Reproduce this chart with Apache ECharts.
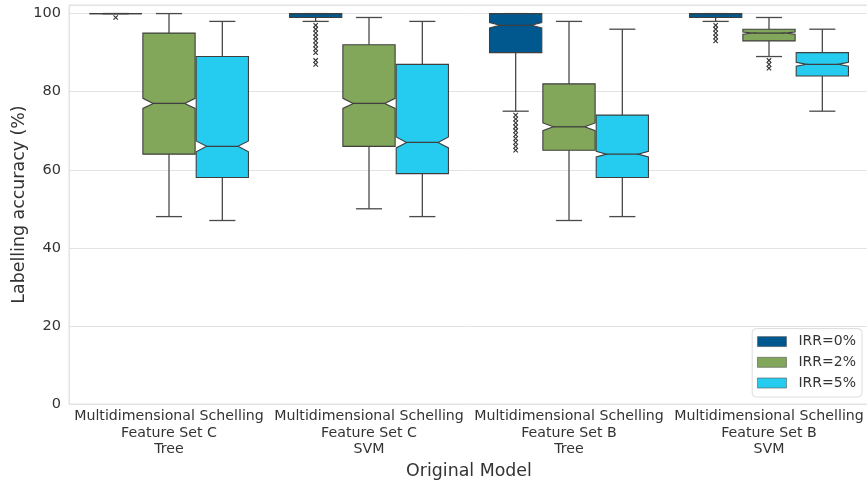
<!DOCTYPE html>
<html>
<head>
<meta charset="utf-8">
<script src="https://cdn.jsdelivr.net/npm/echarts@6/dist/echarts.min.js"></script>
<style>
html,body{margin:0;padding:0;background:#fff;}
#chart{width:867px;height:482px;}
</style>
</head>
<body>
<div id="chart"></div>
<script>
// ---- Data ----
const categories = [
  'Multidimensional Schelling\nFeature Set C\nTree',
  'Multidimensional Schelling\nFeature Set C\nSVM',
  'Multidimensional Schelling\nFeature Set B\nTree',
  'Multidimensional Schelling\nFeature Set B\nSVM'
];
const seriesNames = ['IRR=0%', 'IRR=2%', 'IRR=5%'];
// each row: [whiskerLow, q1, notchLow, median, notchHigh, q3, whiskerHigh]
const irr0Stats = [
  [100, 100, 100, 100, 100, 100, 100],
  [98, 99, 100, 100, 100, 100, 100],
  [75, 90, 96.3, 97, 97.7, 100, 100],
  [98, 99, 100, 100, 100, 100, 100]
];
const irr2Stats = [
  [48, 64, 75.7, 77, 78.3, 95, 100],
  [50, 66, 75.7, 77, 78.3, 92, 99],
  [47, 65, 70, 71, 72, 82, 98],
  [89, 93, 94.7, 95, 95.3, 96, 99]
];
const irr5Stats = [
  [47, 58, 64.6, 66, 67.4, 89, 98],
  [48, 59, 65.6, 67, 68.4, 87, 98],
  [48, 58, 63.3, 64, 64.7, 74, 96],
  [75, 84, 86.5, 87, 87.5, 90, 96]
];
const irr0Outliers = [
  [99],
  [97, 96, 95, 94, 93, 92, 91, 90, 88, 87],
  [74, 73, 72, 71, 70, 69, 68, 67, 66, 65],
  [97, 96, 95, 94, 93]
];
const irr2Outliers = [
  [],
  [],
  [],
  [88, 87, 86]
];
const irr5Outliers = [[], [], [], []];
const yTicks = [0, 20, 40, 60, 80, 100];

// ---- Styles ----
const colors = ['#00588f', '#82a75a', '#25ccf0'];
const edge = '#3f3f3f';
const whiskerColor = '#4a4a4a';

const allStats = [irr0Stats, irr2Stats, irr5Stats];
const allOutliers = [irr0Outliers, irr2Outliers, irr5Outliers];

function geom(api, idx, g) {
  const c = api.coord([idx, 0])[0];
  const band = api.size([1, 0])[0];
  const bw = band * 0.8 / 3;
  const cx = c + (g - 1) * bw;
  const w = bw * 0.98;
  return {cx, w};
}

function makeBoxRender(g) {
  return function (params, api) {
    const idx = api.value(0);
    const {cx, w} = geom(api, idx, g);
    const y = v => api.coord([idx, v])[1];
    const wl = api.value(1), q1 = api.value(2), nl = api.value(3), med = api.value(4),
          nh = api.value(5), q3 = api.value(6), wh = api.value(7);
    const L = cx - w / 2, R = cx + w / 2;
    const ind = (nh > nl) ? w * 0.2 : 0;
    let pts;
    if (ind > 0) {
      pts = [[L, y(q3)], [R, y(q3)], [R, y(nh)], [R - ind, y(med)], [R, y(nl)], [R, y(q1)],
             [L, y(q1)], [L, y(nl)], [L + ind, y(med)], [L, y(nh)]];
    } else {
      pts = [[L, y(q3)], [R, y(q3)], [R, y(q1)], [L, y(q1)]];
    }
    const lineStyle = {stroke: whiskerColor, lineWidth: 1.3};
    const capW = w / 4;
    return {
      type: 'group',
      children: [
        {type: 'line', shape: {x1: cx, y1: y(q3), x2: cx, y2: y(wh)}, style: lineStyle},
        {type: 'line', shape: {x1: cx, y1: y(q1), x2: cx, y2: y(wl)}, style: lineStyle},
        {type: 'line', shape: {x1: cx - capW, y1: y(wh), x2: cx + capW, y2: y(wh)}, style: lineStyle},
        {type: 'line', shape: {x1: cx - capW, y1: y(wl), x2: cx + capW, y2: y(wl)}, style: lineStyle},
        {type: 'polygon', shape: {points: pts}, style: {fill: colors[g], stroke: edge, lineWidth: 1.1}},
        {type: 'line', shape: {x1: L + ind, y1: y(med), x2: R - ind, y2: y(med)}, style: {stroke: edge, lineWidth: 1.3}}
      ]
    };
  };
}

function makeOutlierRender(g) {
  return function (params, api) {
    const idx = api.value(0);
    const {cx} = geom(api, idx, g);
    const yy = api.coord([idx, api.value(1)])[1];
    const s = 2.2;
    const st = {stroke: '#333', lineWidth: 1.1};
    return {
      type: 'group',
      children: [
        {type: 'line', shape: {x1: cx - s, y1: yy - s, x2: cx + s, y2: yy + s}, style: st},
        {type: 'line', shape: {x1: cx - s, y1: yy + s, x2: cx + s, y2: yy - s}, style: st}
      ]
    };
  };
}

const series = [];
for (let g = 0; g < 3; g++) {
  series.push({
    name: seriesNames[g],
    type: 'custom',
    renderItem: makeBoxRender(g),
    itemStyle: {color: colors[g]},
    encode: {x: 0, y: [1, 2, 3, 4, 5, 6, 7]},
    data: allStats[g].map((r, i) => [i].concat(r)),
    z: 3
  });
}
for (let g = 0; g < 3; g++) {
  const pts = [];
  allOutliers[g].forEach((arr, i) => arr.forEach(v => pts.push([i, v])));
  series.push({
    name: seriesNames[g] + ' outliers',
    type: 'custom',
    renderItem: makeOutlierRender(g),
    encode: {x: 0, y: 1},
    data: pts,
    z: 4
  });
}

const font = 'DejaVu Sans';
const chart = echarts.init(document.getElementById('chart'), null, {renderer: 'canvas'});
chart.setOption({
  animation: false,
  backgroundColor: '#fff',
  grid: {left: 69, right: -2, top: 5, bottom: 78, show: true, borderColor: '#e3e3e3', borderWidth: 1,
         containLabel: false, outerBoundsMode: 'none'},
  xAxis: {
    type: 'category',
    data: categories,
    name: 'Original Model',
    nameLocation: 'middle',
    nameGap: 56,
    nameTextStyle: {fontFamily: font, fontSize: 17.4, color: '#333'},
    axisLine: {show: false},
    axisTick: {show: false},
    axisLabel: {interval: 0, fontFamily: font, fontSize: 14.2, color: '#333', lineHeight: 16.7, margin: 4},
    splitLine: {show: false}
  },
  yAxis: {
    type: 'value',
    min: 0,
    max: 102.2,
    interval: 20,
    name: 'Labelling accuracy (%)',
    nameLocation: 'middle',
    nameGap: 41,
    nameMoveOverlap: false,
    nameTextStyle: {fontFamily: font, fontSize: 17.4, color: '#333'},
    axisLine: {show: true, lineStyle: {color: '#e3e3e3'}},
    axisTick: {show: false},
    axisLabel: {
      fontFamily: font, fontSize: 14.5, color: '#333', margin: 8,
      formatter: v => (yTicks.indexOf(v) >= 0 ? String(v) : '')
    },
    splitLine: {show: true, lineStyle: {color: '#e3e3e3', width: 1}}
  },
  legend: {
    data: seriesNames.map((n, g) => ({name: n, icon: 'rect', itemStyle: {color: colors[g], borderColor: '#555', borderWidth: 0.6}})),
    orient: 'vertical',
    right: 5,
    bottom: 85,
    itemWidth: 29,
    itemHeight: 10,
    itemGap: 6.7,
    padding: [6, 6, 7, 5],
    backgroundColor: 'rgba(255,255,255,0.85)',
    borderColor: '#dcdcdc',
    borderWidth: 1,
    borderRadius: 4,
    textStyle: {fontFamily: font, fontSize: 14, color: '#333', lineHeight: 14, padding: [0, 0, 0, 7]}
  },
  series: series
});
</script>
</body>
</html>
